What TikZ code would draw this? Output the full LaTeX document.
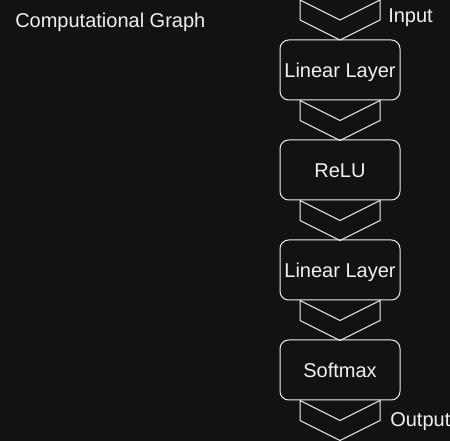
\documentclass[tikz,border=0pt]{standalone}
\usepackage{fontspec}
\setmainfont{Liberation Sans}
\usetikzlibrary{positioning}
\definecolor{bg}{HTML}{121212}
\definecolor{ink}{HTML}{F0F0F0}

\begin{document}
\begin{tikzpicture}[x=0.75pt,y=-0.75pt,font=\fontsize{15}{18}\selectfont,
    layer/.style={draw=ink,fill=bg,text=ink,rounded corners=6.5pt,line width=0.75pt,
      minimum width=90pt,minimum height=45pt,inner sep=0pt,text height=10.7pt,text depth=0pt},
    lbl/.style={text=ink,anchor=base west,inner sep=0pt},
    chev/.style={draw=ink,line width=0.75pt,line join=miter}]
      \fill[bg] (0,0) rectangle (450,441);
      \useasboundingbox (0,0) rectangle (450,441);
      \node[lbl] (title) at (15,28) {Computational Graph};
      \coordinate (in) at (340,0);
      % layer stack
      \foreach \n/\y/\t in {l1/70/Linear Layer,relu/170/ReLU,l2/270/Linear Layer,soft/370/Softmax}{
        \node[layer] (\n) at (340,\y) {\t};}
      % chevrons between the layers
      \foreach \p in {in,l1.south,relu.south,l2.south,soft.south}{
        \draw[chev] (\p) ++(-40,0) -- ++(40,20) -- ++(40,-20) -- ++(0,20)
          -- ++(-40,20) -- ++(-40,-20) -- cycle;}
      \node[lbl] (input) at (388,23) {Input};
      \node[lbl] (output) at (390,427) {Output};
    \end{tikzpicture}
\end{document}
